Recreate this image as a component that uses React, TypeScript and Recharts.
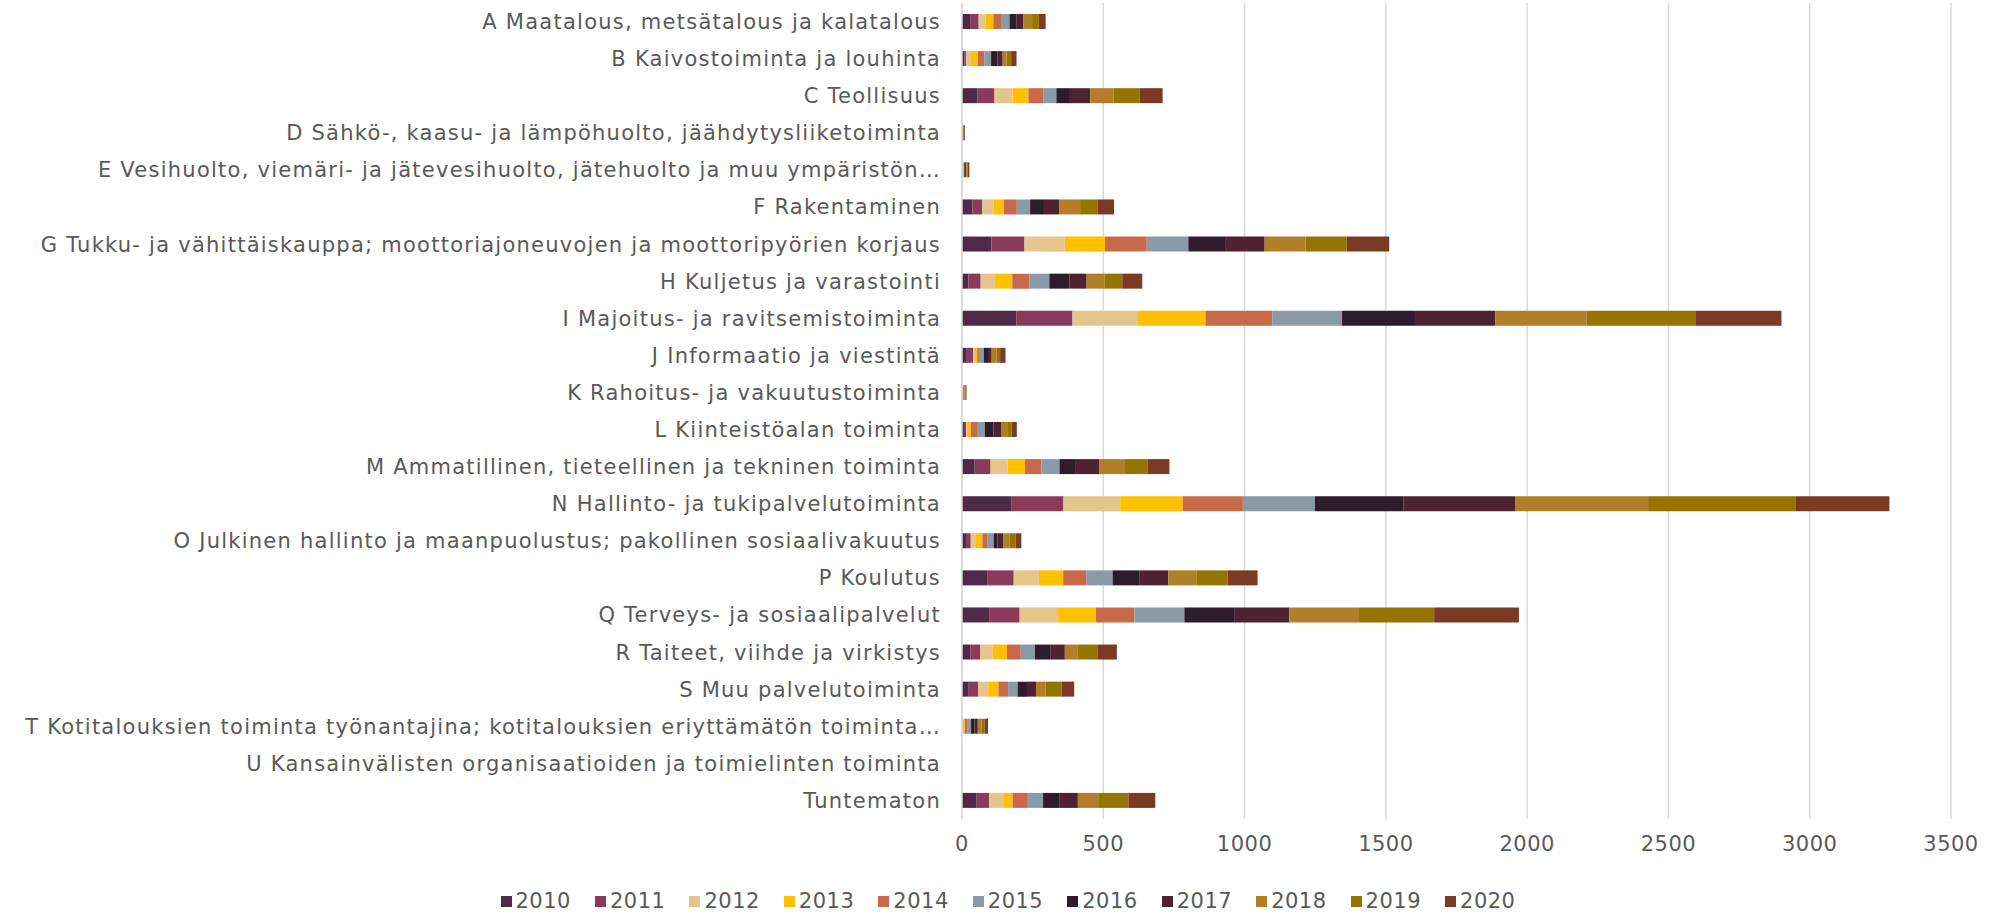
import React from "react";
import { BarChart, Bar, XAxis, YAxis, CartesianGrid, Legend } from "recharts";

const categories = [
  "A Maatalous, metsätalous ja kalatalous",
  "B Kaivostoiminta ja louhinta",
  "C Teollisuus",
  "D Sähkö-, kaasu- ja lämpöhuolto, jäähdytysliiketoiminta",
  "E Vesihuolto, viemäri- ja jätevesihuolto, jätehuolto ja muu ympäristön…",
  "F Rakentaminen",
  "G Tukku- ja vähittäiskauppa; moottoriajoneuvojen ja moottoripyörien korjaus",
  "H Kuljetus ja varastointi",
  "I Majoitus- ja ravitsemistoiminta",
  "J Informaatio ja viestintä",
  "K Rahoitus- ja vakuutustoiminta",
  "L Kiinteistöalan toiminta",
  "M Ammatillinen, tieteellinen ja tekninen toiminta",
  "N Hallinto- ja tukipalvelutoiminta",
  "O Julkinen hallinto ja maanpuolustus; pakollinen sosiaalivakuutus",
  "P Koulutus",
  "Q Terveys- ja sosiaalipalvelut",
  "R Taiteet, viihde ja virkistys",
  "S Muu palvelutoiminta",
  "T Kotitalouksien toiminta työnantajina; kotitalouksien eriyttämätön toiminta…",
  "U Kansainvälisten organisaatioiden ja toimielinten toiminta",
  "Tuntematon",
];

const years = ["2010", "2011", "2012", "2013", "2014", "2015", "2016", "2017", "2018", "2019", "2020"];

const y2010 = [31, 8, 55, 0, 0, 37, 104, 23, 192, 17, 0, 7, 45, 176, 17, 91, 98, 29, 24, 1, 0, 52];
const y2011 = [28, 6, 60, 0, 0, 35, 117, 43, 199, 22, 0, 8, 56, 183, 14, 92, 106, 36, 34, 1, 0, 44];
const y2012 = [25, 18, 64, 0, 3, 39, 143, 51, 232, 7, 2, 3, 61, 201, 16, 89, 136, 44, 35, 2, 0, 50];
const y2013 = [27, 24, 56, 1, 3, 37, 142, 61, 239, 8, 0, 13, 61, 221, 25, 86, 134, 50, 36, 6, 0, 33];
const y2014 = [27, 23, 54, 0, 0, 46, 148, 61, 236, 6, 2, 22, 58, 213, 19, 83, 136, 49, 34, 8, 0, 54];
const y2015 = [30, 24, 45, 0, 2, 47, 147, 70, 247, 17, 2, 28, 64, 255, 21, 92, 177, 50, 34, 14, 0, 54];
const y2016 = [24, 22, 48, 0, 3, 49, 130, 71, 258, 15, 0, 30, 58, 314, 14, 96, 176, 56, 33, 12, 0, 59];
const y2017 = [25, 19, 72, 1, 4, 55, 140, 61, 284, 13, 2, 27, 82, 394, 21, 101, 195, 50, 32, 12, 0, 64];
const y2018 = [31, 14, 82, 2, 3, 73, 145, 63, 323, 17, 3, 22, 89, 471, 22, 101, 247, 46, 34, 13, 0, 72];
const y2019 = [24, 16, 92, 2, 3, 61, 145, 63, 385, 13, 2, 16, 82, 521, 21, 109, 266, 71, 56, 11, 0, 107];
const y2020 = [24, 19, 82, 4, 5, 59, 151, 71, 305, 19, 3, 18, 78, 333, 20, 106, 300, 67, 45, 12, 0, 95];

const series = [y2010, y2011, y2012, y2013, y2014, y2015, y2016, y2017, y2018, y2019, y2020];

const colors = [
  "#4E2A46",
  "#8A3B5A",
  "#E6C48E",
  "#FFC000",
  "#C8694A",
  "#8A9AA6",
  "#2E1B2C",
  "#4F2232",
  "#B07F28",
  "#977300",
  "#7B3A24",
];

const xTicks = [0, 500, 1000, 1500, 2000, 2500, 3000, 3500];

const data = categories.map((name, i) => {
  const row: Record<string, string | number> = { name };
  years.forEach((y, j) => {
    row[y] = series[j][i];
  });
  return row;
});

const FONT = "'DejaVu Sans', sans-serif";
const TEXT = "#595959";

const LegendContent = () => (
  <div
    style={{
      display: "flex",
      justifyContent: "center",
      alignItems: "center",
      fontFamily: FONT,
      fontSize: 21,
      letterSpacing: 0.5,
      color: TEXT,
      height: 26,
    }}
  >
    {years.map((y, i) => (
      <div key={y} style={{ display: "flex", alignItems: "center", margin: "0 12px" }}>
        <span
          style={{ width: 11, height: 11, background: colors[i], display: "inline-block", marginRight: 4 }}
        />
        <span>{y}</span>
      </div>
    ))}
  </div>
);

export default function App() {
  return (
    <div style={{ position: "absolute", left: 0, top: 0, background: "#fff" }}>
      <BarChart
        width={1990}
        height={914}
        data={data}
        layout="vertical"
        margin={{ top: 3, right: 39, bottom: 0, left: 0 }}
        barSize={15}
      >
        <CartesianGrid horizontal={false} stroke="#D9D9D9" strokeWidth={1.5} />
        <XAxis
          type="number"
          domain={[0, 3500]}
          ticks={xTicks}
          axisLine={false}
          tickLine={false}
          tickSize={0}
          tickMargin={17}
          height={69}
          tick={{ fill: TEXT, fontSize: 21, fontFamily: FONT, letterSpacing: 0.5 }}
        />
        <YAxis
          type="category"
          dataKey="name"
          width={962}
          interval={0}
          axisLine={{ stroke: "#D9D9D9", strokeWidth: 1.5 }}
          tickLine={false}
          tickSize={0}
          tickMargin={21}
          tick={{ fill: TEXT, fontSize: 21, fontFamily: FONT, letterSpacing: 1.25 }}
        />
        <Legend verticalAlign="bottom" content={<LegendContent />} wrapperStyle={{ left: 0, width: 2016 }} />
        {years.map((y, i) => (
          <Bar key={y} dataKey={y} stackId="a" fill={colors[i]} isAnimationActive={false} />
        ))}
      </BarChart>
    </div>
  );
}
